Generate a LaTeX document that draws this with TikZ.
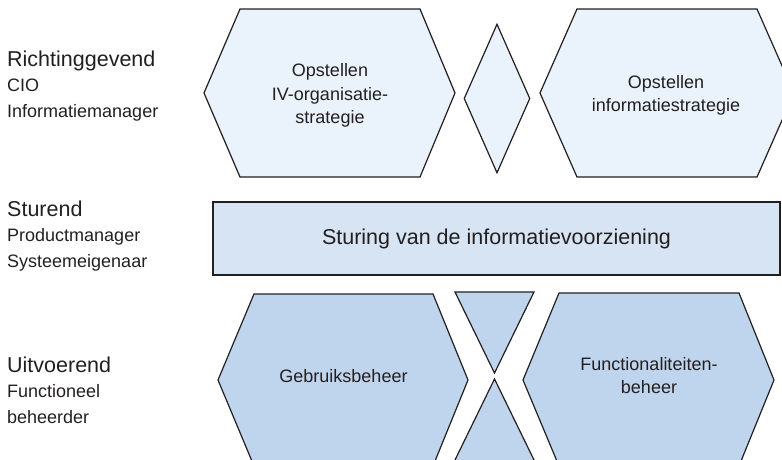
\documentclass[tikz,border=0pt]{standalone}
\usepackage{fontspec}
\setmainfont{Liberation Sans}
\usepackage{xcolor}
\usepackage{tikz}
\usetikzlibrary{shapes.geometric}

\definecolor{tekstgrijs}{HTML}{231F20}
\definecolor{lichtblauw}{HTML}{EAF2FB}
\definecolor{middenblauw}{HTML}{D6E4F3}
\definecolor{donkerblauw}{HTML}{BFD5EE}

\begin{document}
\begin{tikzpicture}[x=1pt, y=-1pt]

    % Define style for shapes and texts
    \tikzstyle{vlak} = [draw=tekstgrijs, line width=1.2pt, line join=miter]
    \tikzstyle{boven} = [vlak, fill=lichtblauw]
    \tikzstyle{onder} = [vlak, fill=donkerblauw]
    \tikzstyle{tekst} = [text=tekstgrijs, align=center, inner sep=0pt, font=\fontsize{18}{23.5}\selectfont]
    \tikzstyle{rol} = [text=tekstgrijs, align=left, anchor=base west, inner sep=0pt, font=\fontsize{18}{25.5}\selectfont]

    % Frame
    \clip (0,0) rectangle (782,459);

    % Top row
    \path[boven] (204,93) -- (240,9) -- (420,9) -- (455,93) -- (420,177) -- (240,177) -- cycle;
    \path[boven] (540,93) -- (577,9) -- (757,9) -- (794,93) -- (757,177) -- (577,177) -- cycle;
    \node (schakel) [boven, diamond, minimum width=66pt, minimum height=149pt, inner sep=0pt] at (497,98.5) {};

    % Middle bar
    \node (sturing) [vlak, fill=middenblauw, minimum width=567pt, minimum height=73pt, inner sep=0pt, text=tekstgrijs, font=\fontsize{21.5}{26}\selectfont] at (496.5,238.5) {Sturing van de informatievoorziening};

    % Bottom row
    \path[onder] (218,380) -- (254,294) -- (433,294) -- (468,380) -- (433,466) -- (254,466) -- cycle;
    \path[onder] (523,380) -- (559,293) -- (739,293) -- (774,380) -- (739,466) -- (559,466) -- cycle;
    \path[onder] (455,292) -- (534,292) -- (494.5,373) -- cycle;
    \path[onder] (494.5,379) -- (535,462) -- (454,462) -- cycle;

    % Nodes
    \node (ivstrategie) [tekst] at (330,95.5) {Opstellen\\IV-organisatie-\\strategie};
    \node (infostrategie) [tekst] at (666,95.5) {Opstellen\\informatiestrategie};
    \node (gebruik) [tekst] at (343.5,376.5) {Gebruiksbeheer};
    \node (functionaliteit) [tekst] at (649,375.5) {Functionaliteiten-\\beheer};

    % Roles (base is on the last line)
    \node (richtinggevend) [rol] at (7,117) {{\fontsize{21.5}{26}\selectfont Richtinggevend}\\CIO\\Informatiemanager};
    \node (sturend) [rol] at (7,267) {{\fontsize{21.5}{26}\selectfont Sturend}\\Productmanager\\Systeemeigenaar};
    \node (uitvoerend) [rol] at (7,423) {{\fontsize{21.5}{26}\selectfont Uitvoerend}\\Functioneel\\beheerder};

\end{tikzpicture}
\end{document}
